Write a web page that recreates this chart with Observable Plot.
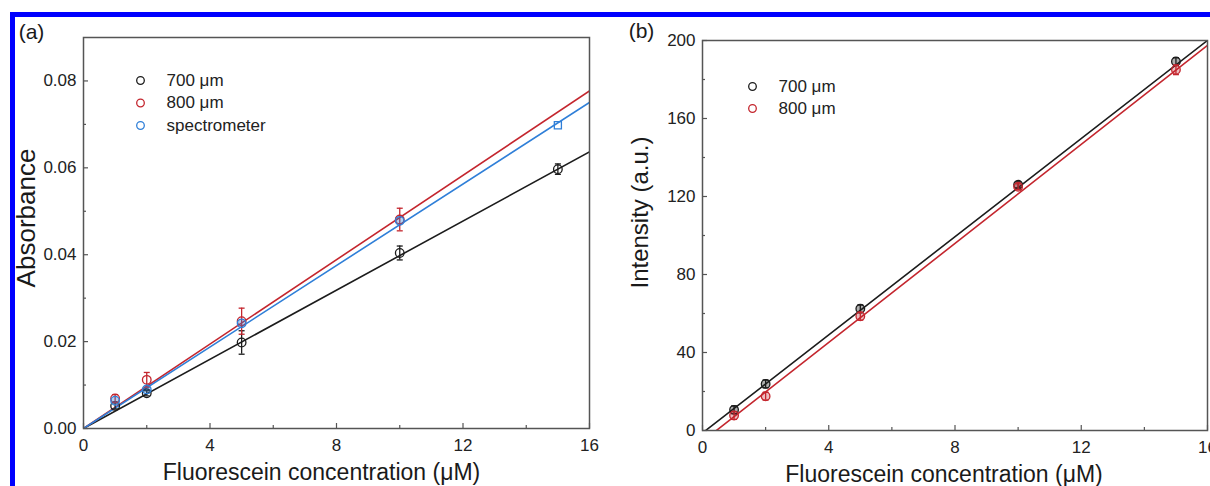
<!DOCTYPE html>
<html><head><meta charset="utf-8">
<script src="https://cdn.jsdelivr.net/npm/d3@7"></script>
<script src="https://cdn.jsdelivr.net/npm/@observablehq/plot@0.6"></script>
<style>
html,body{margin:0;padding:0;background:#fff;width:1210px;height:486px;overflow:hidden;}
#wrap{position:relative;width:1210px;height:486px;}
.panel{position:absolute;top:0;}
.bt{position:absolute;left:10px;top:12px;width:1200px;height:5px;background:#0000fe;}
.bl{position:absolute;left:10px;top:12px;width:5px;height:474px;background:#0000fe;}
</style></head>
<body><div id="wrap"><div id="pa" class="panel" style="left:0"></div><div id="pb" class="panel" style="left:605px"></div><div class="bt"></div><div class="bl"></div></div>
<script>
// ---------- data ----------
const xLabel = "Fluorescein concentration (μM)";
const conc = [1, 2, 5, 10, 15];
const conc800a = [1, 2, 5, 10];
// panel (a): absorbance
const abs700 = [0.0052, 0.0081, 0.0198, 0.0404, 0.0597];
const absErr700 = [0.0007, 0.0006, 0.0027, 0.0016, 0.0012];
const abs800 = [0.0069, 0.0112, 0.0247, 0.0481];
const absErr800 = [0.0009, 0.0017, 0.0030, 0.0026];
const absSpec = [0.0064, 0.0090, 0.0242, 0.0478, 0.0698];
const absSpecSymbol = ["circle", "circle", "circle", "circle", "square"];
const seriesA = ["700 μm", "800 μm", "spectrometer"];
const fitSlopeA = [0.00398, 0.004857, 0.00469];
const fitInterceptA = [0, 0, 0];
// panel (b): intensity
const int700 = [10.6, 23.9, 62.4, 126, 189.2];
const intErr700 = [2, 2, 2, 1.5, 2];
const int800 = [7.7, 17.6, 58.6, 125, 185];
const intErr800 = [2, 2, 2, 1.5, 2.5];
const seriesB = ["700 μm", "800 μm"];
const fitSlopeB = [12.58, 12.69];
const fitInterceptB = [-1.26, -5.58];
// ticks
const xMajor = [0, 4, 8, 12, 16];
const xMinor = [2, 6, 10, 14];
const yMajorA = [0, 0.02, 0.04, 0.06, 0.08];
const yMinorA = [0.01, 0.03, 0.05, 0.07];
const yMajorB = [0, 40, 80, 120, 160, 200];
const yMinorB = [20, 60, 100, 140, 180];

const colors = ["#1c1c1c", "#c4262e", "#2f7fd8"];
const FONT = "'Liberation Sans', Arial, sans-serif";
const capSym = {draw(ctx, size) { const r = Math.sqrt(size / Math.PI); ctx.moveTo(-r, 0); ctx.lineTo(r, 0); }};

function fitLine(slope, intercept) {
  return [0, 16].map(x => ({x, y: intercept + slope * x}));
}
function rows(xs, ys, es) {
  return xs.map((x, i) => ({x, y: ys[i], e: es ? es[i] : 0}));
}

function panel(cfg) {
  const H = cfg.height - cfg.marginTop - cfg.marginBottom;
  const W = cfg.width - cfg.marginLeft - cfg.marginRight;
  const marks = [];
  cfg.fits.forEach((f) => {
    marks.push(Plot.line(fitLine(f.slope, f.intercept), {x: "x", y: "y", stroke: f.color, strokeWidth: 1.6, clip: true}));
  });
  cfg.points.forEach(p => {
    if (p.err) {
      marks.push(Plot.ruleX(p.data, {x: "x", y1: d => d.y - d.e, y2: d => d.y + d.e, stroke: p.color, strokeWidth: 1.3}));
      marks.push(Plot.dot(p.data, {x: "x", y: d => d.y - d.e, symbol: capSym, r: 3, stroke: p.color, strokeWidth: 1.3}));
      marks.push(Plot.dot(p.data, {x: "x", y: d => d.y + d.e, symbol: capSym, r: 3, stroke: p.color, strokeWidth: 1.3}));
    }
    marks.push(Plot.dot(p.data, {x: "x", y: "y", symbol: p.symbol || "circle", r: p.r || 4.3, stroke: p.color, strokeWidth: 1.3, fill: p.fill || "none"}));
  });
  marks.push(Plot.frame({stroke: "#555", strokeWidth: 1.5}));
  marks.push(Plot.tickX(cfg.xMajor, {x: d => d, insetTop: H - 5, stroke: "#555", strokeWidth: 1.2}));
  marks.push(Plot.tickX(cfg.xMinor, {x: d => d, insetTop: H - 3, stroke: "#555", strokeWidth: 1.2}));
  marks.push(Plot.tickY(cfg.yMajor, {y: d => d, insetRight: W - 5, stroke: "#555", strokeWidth: 1.2}));
  marks.push(Plot.tickY(cfg.yMinor, {y: d => d, insetRight: W - 3, stroke: "#555", strokeWidth: 1.2}));
  marks.push(Plot.axisX(cfg.xMajor, {tickSize: 0, tickPadding: 10, fontSize: 17, label: null, fill: "#222"}));
  marks.push(Plot.axisY(cfg.yMajor, {tickSize: 0, tickPadding: 7, fontSize: 17, label: null, fill: "#222", tickFormat: cfg.yFormat}));
  marks.push(Plot.text([xLabel], {frameAnchor: "bottom", textAnchor: "middle", lineAnchor: "middle", dx: cfg.xlDx, dy: 44, fontSize: 23, fill: "#1a1a1a", text: d => d}));
  marks.push(Plot.text([cfg.yLabel], {frameAnchor: "left", textAnchor: "middle", lineAnchor: "middle", rotate: -90, dx: cfg.ylDx, dy: cfg.ylDy, fontSize: cfg.ylSize, fill: "#1a1a1a", text: d => d}));
  marks.push(Plot.text([cfg.tag], {frameAnchor: "top-left", textAnchor: "middle", lineAnchor: "middle", dx: cfg.tagDx, dy: cfg.tagDy, fontSize: 21, fill: "#1a1a1a", text: d => d}));
  cfg.legend.forEach((name, i) => {
    marks.push(Plot.dot([name], {frameAnchor: "top-left", dx: cfg.legDx, dy: cfg.legDy + i * cfg.legStep, r: 3.8, stroke: colors[i], strokeWidth: 1.3}));
    marks.push(Plot.text([name], {frameAnchor: "top-left", dx: cfg.legDx + 26, dy: cfg.legDy + i * cfg.legStep, textAnchor: "start", lineAnchor: "middle", fontSize: 17, fill: "#222", text: d => d}));
  });
  return Plot.plot({
    width: cfg.width, height: cfg.height,
    marginLeft: cfg.marginLeft, marginRight: cfg.marginRight, marginTop: cfg.marginTop, marginBottom: cfg.marginBottom,
    style: {fontFamily: FONT, fontSize: "17px", background: "transparent", color: "#222", overflow: "visible"},
    x: {domain: [0, 16], axis: null},
    y: {domain: cfg.yDomain, axis: null},
    marks
  });
}

const chartA = panel({
  width: 605, height: 486, marginLeft: 83, marginRight: 16, marginTop: 37, marginBottom: 58,
  yDomain: [0, 0.09], xMajor, xMinor, yMajor: yMajorA, yMinor: yMinorA, yFormat: d3.format(".2f"),
  yLabel: "Absorbance", ylSize: 26, ylDx: -57, ylDy: -15, xlDx: -15,
  tag: "(a)", tagDx: -52, tagDy: -5,
  legend: seriesA, legDx: 57, legDy: 43, legStep: 22.5,
  fits: seriesA.map((s, i) => ({slope: fitSlopeA[i], intercept: fitInterceptA[i], color: colors[i]})),
  points: [
    {data: rows(conc, abs700, absErr700), err: true, color: colors[0]},
    {data: rows(conc800a, abs800, absErr800), err: true, color: colors[1]},
    {data: rows(conc, absSpec).filter((d, i) => absSpecSymbol[i] === "circle"), color: colors[2], fill: "rgba(47,127,216,0.35)"},
    {data: rows(conc, absSpec).filter((d, i) => absSpecSymbol[i] === "square"), color: colors[2], symbol: "square", r: 4}
  ]
});
document.getElementById("pa").appendChild(chartA);

const chartB = panel({
  width: 605, height: 486, marginLeft: 97, marginRight: 3, marginTop: 40, marginBottom: 56,
  yDomain: [0, 200], xMajor, xMinor, yMajor: yMajorB, yMinor: yMinorB, yFormat: d3.format("d"),
  yLabel: "Intensity (a.u.)", ylSize: 24, ylDx: -62, ylDy: -23, xlDx: -11,
  tag: "(b)", tagDx: -61, tagDy: -9,
  legend: seriesB, legDx: 50, legDy: 46, legStep: 22,
  fits: seriesB.map((s, i) => ({slope: fitSlopeB[i], intercept: fitInterceptB[i], color: colors[i]})),
  points: [
    {data: rows(conc, int700, intErr700), err: true, color: colors[0], fill: "rgba(28,28,28,0.35)"},
    {data: rows(conc, int800, intErr800), err: true, color: colors[1], fill: "rgba(196,38,46,0.3)"}
  ]
});
document.getElementById("pb").appendChild(chartB);
</script>
</body></html>
